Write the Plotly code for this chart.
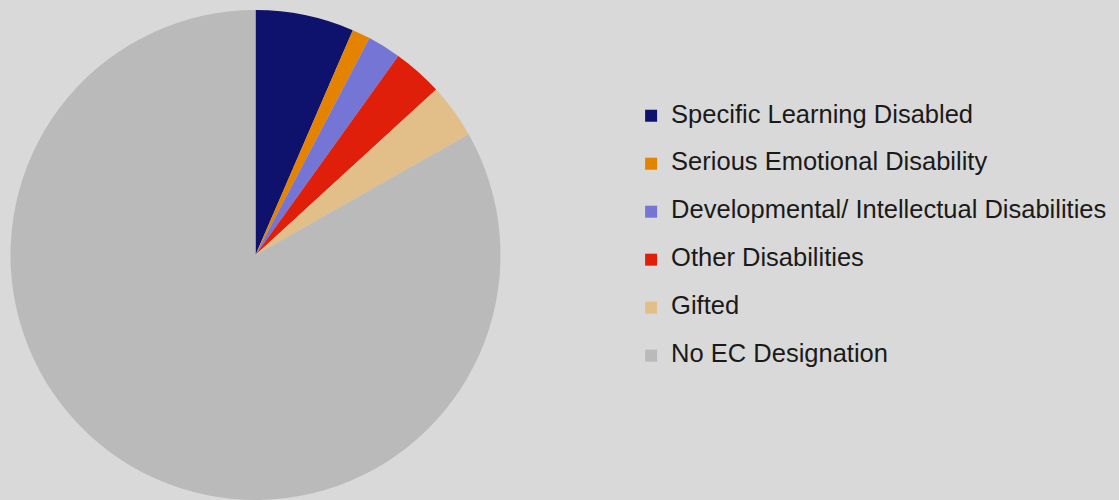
import plotly.graph_objects as go

# Share of students by exceptional-children designation (percent)
categories = [
    "Specific Learning Disabled",
    "Serious Emotional Disability",
    "Developmental/ Intellectual Disabilities",
    "Other Disabilities",
    "Gifted",
    "No EC Designation",
]
shares = [6.5, 1.2, 2.2, 3.3, 3.6, 83.2]
colors = ["#0E126C", "#E38300", "#7575D6", "#E01F0A", "#E2BE89", "#BABABA"]

LABEL_PX = 25.5
# each label carries an empty second line so the legend rows get extra spacing
legend_labels = [
    f"<span style='font-size:{LABEL_PX}px'>{c}</span><br> " for c in categories
]

fig = go.Figure(
    go.Pie(
        labels=legend_labels,
        values=shares,
        sort=False,
        direction="clockwise",
        rotation=0,
        marker=dict(colors=colors, line=dict(width=0)),
        textinfo="none",
        hoverinfo="skip",
        domain=dict(x=[10 / 1119, 501 / 1119], y=[0.0, 0.98]),
    )
)

fig.update_layout(
    width=1119,
    height=500,
    margin=dict(l=0, r=0, t=0, b=0),
    paper_bgcolor="#D9D9D9",
    plot_bgcolor="#D9D9D9",
    showlegend=True,
    legend=dict(
        x=0.564,
        y=0.804,
        xanchor="left",
        yanchor="top",
        valign="top",
        font=dict(family="Liberation Sans, Arial, sans-serif", size=17.3, color="#1A1A1A"),
        bgcolor="rgba(0,0,0,0)",
        traceorder="normal",
    ),
)

fig.write_html("out.html")
